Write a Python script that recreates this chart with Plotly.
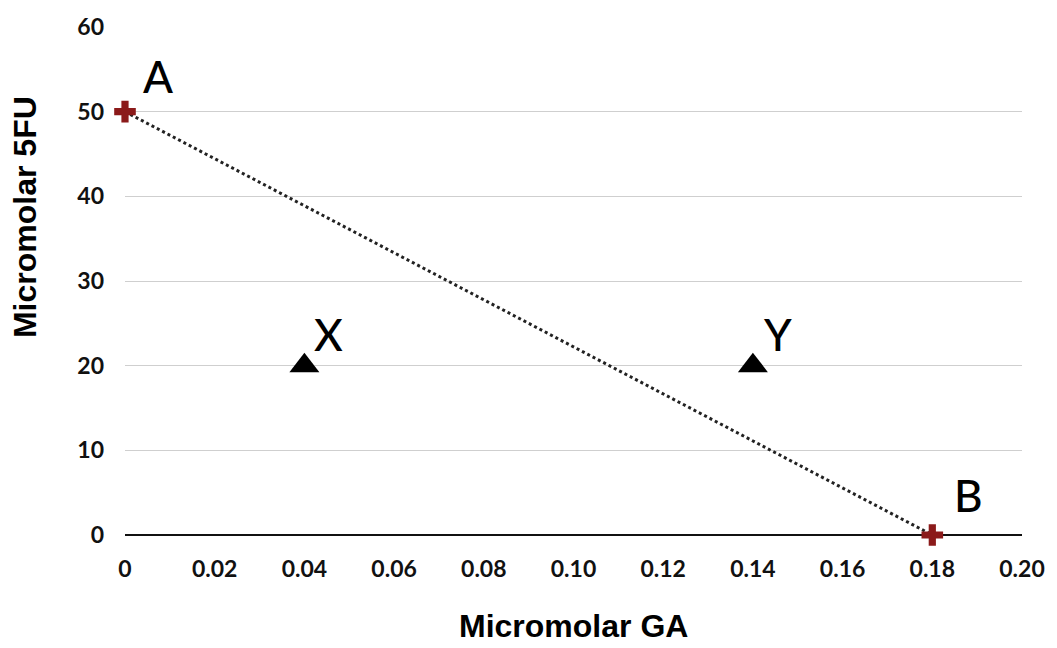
import plotly.graph_objects as go

# Data
line_x = [0.0, 0.18]
line_y = [50, 0]
end_labels = ["A", "B"]
tri_x = [0.04, 0.14]
tri_y = [20, 20]
tri_labels = ["X", "Y"]
x_ticks = [0, 0.02, 0.04, 0.06, 0.08, 0.10, 0.12, 0.14, 0.16, 0.18, 0.20]
x_tick_text = ["0", "0.02", "0.04", "0.06", "0.08", "0.10", "0.12", "0.14", "0.16", "0.18", "0.20"]
y_ticks = [0, 10, 20, 30, 40, 50, 60]

fig = go.Figure()

fig.add_trace(go.Scatter(
    x=line_x, y=line_y, mode="lines",
    line=dict(color="#222222", width=3, dash="dot"),
    showlegend=False, cliponaxis=False))

fig.add_trace(go.Scatter(
    x=line_x, y=line_y, mode="markers",
    marker=dict(symbol="cross", size=18, color="#8b1a1a"),
    showlegend=False, cliponaxis=False))

fig.add_trace(go.Scatter(
    x=tri_x, y=tri_y, mode="markers",
    marker=dict(symbol="triangle-up", size=26, color="black"),
    showlegend=False, cliponaxis=False))

label_font = dict(family="Lato, sans-serif", size=44, color="black", weight=500)
fig.add_annotation(x=line_x[0], y=line_y[0], text=end_labels[0], showarrow=False,
                   xanchor="left", yanchor="bottom", xshift=16, yshift=8, font=label_font)
fig.add_annotation(x=line_x[1], y=line_y[1], text=end_labels[1], showarrow=False,
                   xanchor="left", yanchor="bottom", xshift=20, yshift=12, font=label_font)
for xv, yv, t in zip(tri_x, tri_y, tri_labels):
    fig.add_annotation(x=xv, y=yv, text=t, showarrow=False,
                       xanchor="left", yanchor="bottom", xshift=8, yshift=4, font=label_font)

title_font = dict(family="Liberation Sans, Arial, sans-serif", size=32, color="black")
fig.add_annotation(xref="paper", yref="paper", x=0.5, y=-0.18, text="<b>Micromolar GA</b>",
                   showarrow=False, font=title_font, xanchor="center", yanchor="middle",
                   borderpad=0)
fig.add_annotation(xref="paper", yref="paper", x=-0.112, y=0.625, text="<b>Micromolar 5FU</b>",
                   showarrow=False, font=title_font, textangle=-90, xanchor="center", yanchor="middle")

tick_font = dict(family="Lato, sans-serif", size=23, color="#111111", weight="bold")
fig.update_xaxes(range=[0, 0.2], tickvals=x_ticks, ticktext=x_tick_text,
                 showgrid=False, zeroline=False, showline=False, ticks="",
                 tickfont=tick_font, ticklabelstandoff=18)
fig.update_yaxes(range=[0, 60], tickvals=y_ticks, showgrid=True, gridcolor="#cfcfcf", gridwidth=1,
                 zeroline=True, zerolinecolor="#111111", zerolinewidth=2, showline=False, ticks="",
                 tickfont=tick_font, ticklabelstandoff=20)

fig.update_layout(
    width=1057, height=648,
    margin=dict(l=125, r=28, t=25, b=113),
    plot_bgcolor="white", paper_bgcolor="white",
)

fig.write_html("out.html")
